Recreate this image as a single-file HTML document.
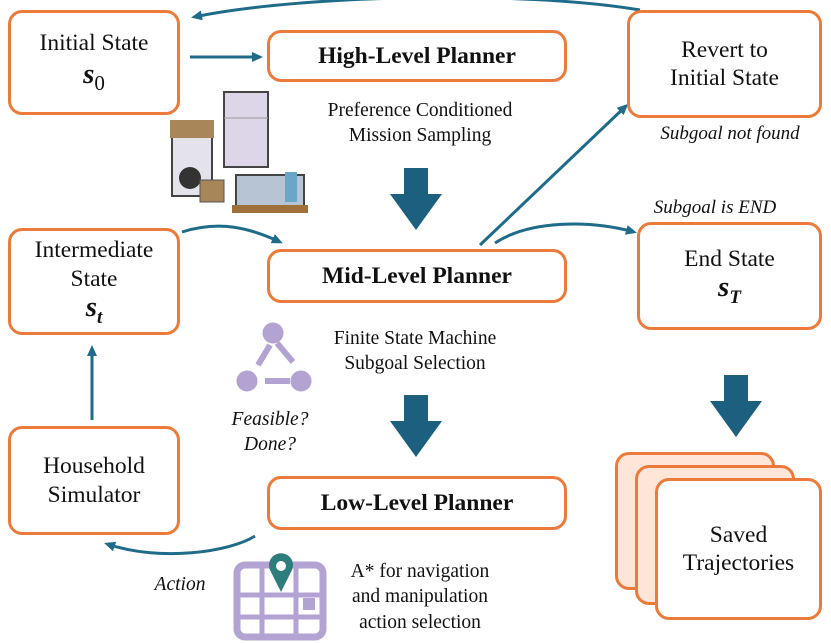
<!DOCTYPE html>
<html><head><meta charset="utf-8"><style>
body{margin:0;width:831px;height:643px;background:#fff;position:relative;overflow:hidden;font-family:"Liberation Serif",serif;color:#111}
.b{position:absolute;border:3px solid #ec7a3a;border-radius:14px;background:#fff;box-sizing:border-box;display:flex;flex-direction:column;align-items:center;justify-content:center;text-align:center;font-size:23.5px;line-height:1.2}
.p{font-weight:bold;font-size:23.5px}
.t{position:absolute;text-align:center;font-size:19.5px;line-height:1.3}
i{font-style:italic}
.m{font-style:italic;font-weight:bold;font-size:29px}
svg{position:absolute;left:0;top:0}
</style></head><body>
<svg width="831" height="643">
<defs><marker id="a" markerWidth="11" markerHeight="10" refX="8" refY="5" orient="auto" markerUnits="userSpaceOnUse"><path d="M0,0 L11,5 L0,10z" fill="#1f6b8a"/></marker></defs>
<g fill="none" stroke="#1f6b8a" stroke-width="3" marker-end="url(#a)">
<path d="M190,57 L260,57"/>
<path d="M640,10 C520,-10 300,-5 194,17"/>
<path d="M480,245 L626,106"/>
<path d="M495,243 C530,220 590,220 634,232"/>
<path d="M182,232 C220,220 250,228 280,242"/>
<path d="M92,420 L92,348"/>
<path d="M255,536 C230,552 160,562 107,544"/>
</g>
<g fill="#1d5f7f">
<path d="M404,168 h24 v26 h14 l-26,36 l-26,-36 h14z"/>
<path d="M404,395 h24 v26 h14 l-26,36 l-26,-36 h14z"/>
<path d="M724,375 h24 v26 h14 l-26,36 l-26,-36 h14z"/>
</g>
<rect x="224" y="92" width="44" height="75" fill="#dcd6e8" stroke="#444" stroke-width="2"/>
<line x1="224" y1="118" x2="268" y2="118" stroke="#999"/>
<rect x="172" y="128" width="40" height="68" fill="#e4e2ea" stroke="#444" stroke-width="2"/>
<rect x="170" y="120" width="44" height="18" fill="#a8865a"/>
<circle cx="190" cy="178" r="11" fill="#333"/>
<rect x="200" y="180" width="24" height="22" fill="#a8865a" stroke="#555"/>
<rect x="236" y="175" width="68" height="35" fill="#b6c4d4" stroke="#444" stroke-width="2"/>
<rect x="285" y="172" width="12" height="30" fill="#6aa6c8"/>
<rect x="232" y="205" width="76" height="8" fill="#a0703a"/>
<g fill="#b3a3d3" stroke="#b3a3d3">
<circle cx="273" cy="333" r="10"/><circle cx="247" cy="381" r="10"/><circle cx="301" cy="381" r="10"/>
<line x1="258" y1="365" x2="270" y2="345" stroke-width="6"/>
<line x1="277" y1="343" x2="293" y2="362" stroke-width="6"/>
<line x1="290" y1="381" x2="265" y2="381" stroke-width="6"/>
</g>
<rect x="237" y="565" width="86" height="72" rx="8" fill="none" stroke="#b3a3d3" stroke-width="7"/>
<g stroke="#b3a3d3" stroke-width="5"><line x1="237" y1="595" x2="323" y2="595"/><line x1="237" y1="617" x2="323" y2="617"/><line x1="262" y1="565" x2="262" y2="637"/><line x1="296" y1="565" x2="296" y2="637"/></g>
<rect x="303" y="598" width="12" height="12" fill="#b3a3d3"/>
<path d="M281,592 L270,570 A12,12 0 1 1 292,570z" fill="#2d7d7d"/><circle cx="281" cy="566" r="5" fill="#fff"/>
</svg>
<div class="b" style="left:8px;top:10px;width:172px;height:105px">Initial State<span class="m">s<sub style="font-style:normal;font-weight:normal;font-size:21px">0</sub></span></div>
<div class="b p" style="left:267px;top:30px;width:300px;height:52px">High-Level Planner</div>
<div class="b" style="left:627px;top:10px;width:195px;height:108px">Revert to<br>Initial State</div>
<div class="t" style="left:630px;top:122px;width:200px;font-size:19px"><i>Subgoal not found</i></div>
<div class="t" style="left:300px;top:98px;width:240px">Preference Conditioned<br>Mission Sampling</div>
<div class="t" style="left:640px;top:196px;width:150px;font-size:19px"><i>Subgoal is END</i></div>
<div class="b" style="left:8px;top:228px;width:172px;height:107px">Intermediate<br>State<span class="m" style="line-height:1">s<sub style="font-size:19px">t</sub></span></div>
<div class="b p" style="left:267px;top:249px;width:300px;height:54px">Mid-Level Planner</div>
<div class="b" style="left:637px;top:222px;width:185px;height:108px">End State<span class="m" style="line-height:1">s<sub style="font-size:19px">T</sub></span></div>
<div class="t" style="left:302px;top:326px;width:226px">Finite State Machine<br>Subgoal Selection</div>
<div class="t" style="left:218px;top:407px;width:104px"><i>Feasible?<br>Done?</i></div>
<div class="b" style="left:8px;top:426px;width:172px;height:109px">Household<br>Simulator</div>
<div class="b p" style="left:267px;top:476px;width:300px;height:54px">Low-Level Planner</div>
<div class="t" style="left:138px;top:572px;width:84px"><i>Action</i></div>
<div class="t" style="left:316px;top:559px;width:208px">A* for navigation<br>and manipulation<br>action selection</div>
<div class="b" style="left:615px;top:452px;width:160px;height:138px;background:#fde6d8"></div>
<div class="b" style="left:635px;top:465px;width:160px;height:140px;background:#fde6d8"></div>
<div class="b" style="left:655px;top:478px;width:167px;height:142px">Saved<br>Trajectories</div>
</body></html>
